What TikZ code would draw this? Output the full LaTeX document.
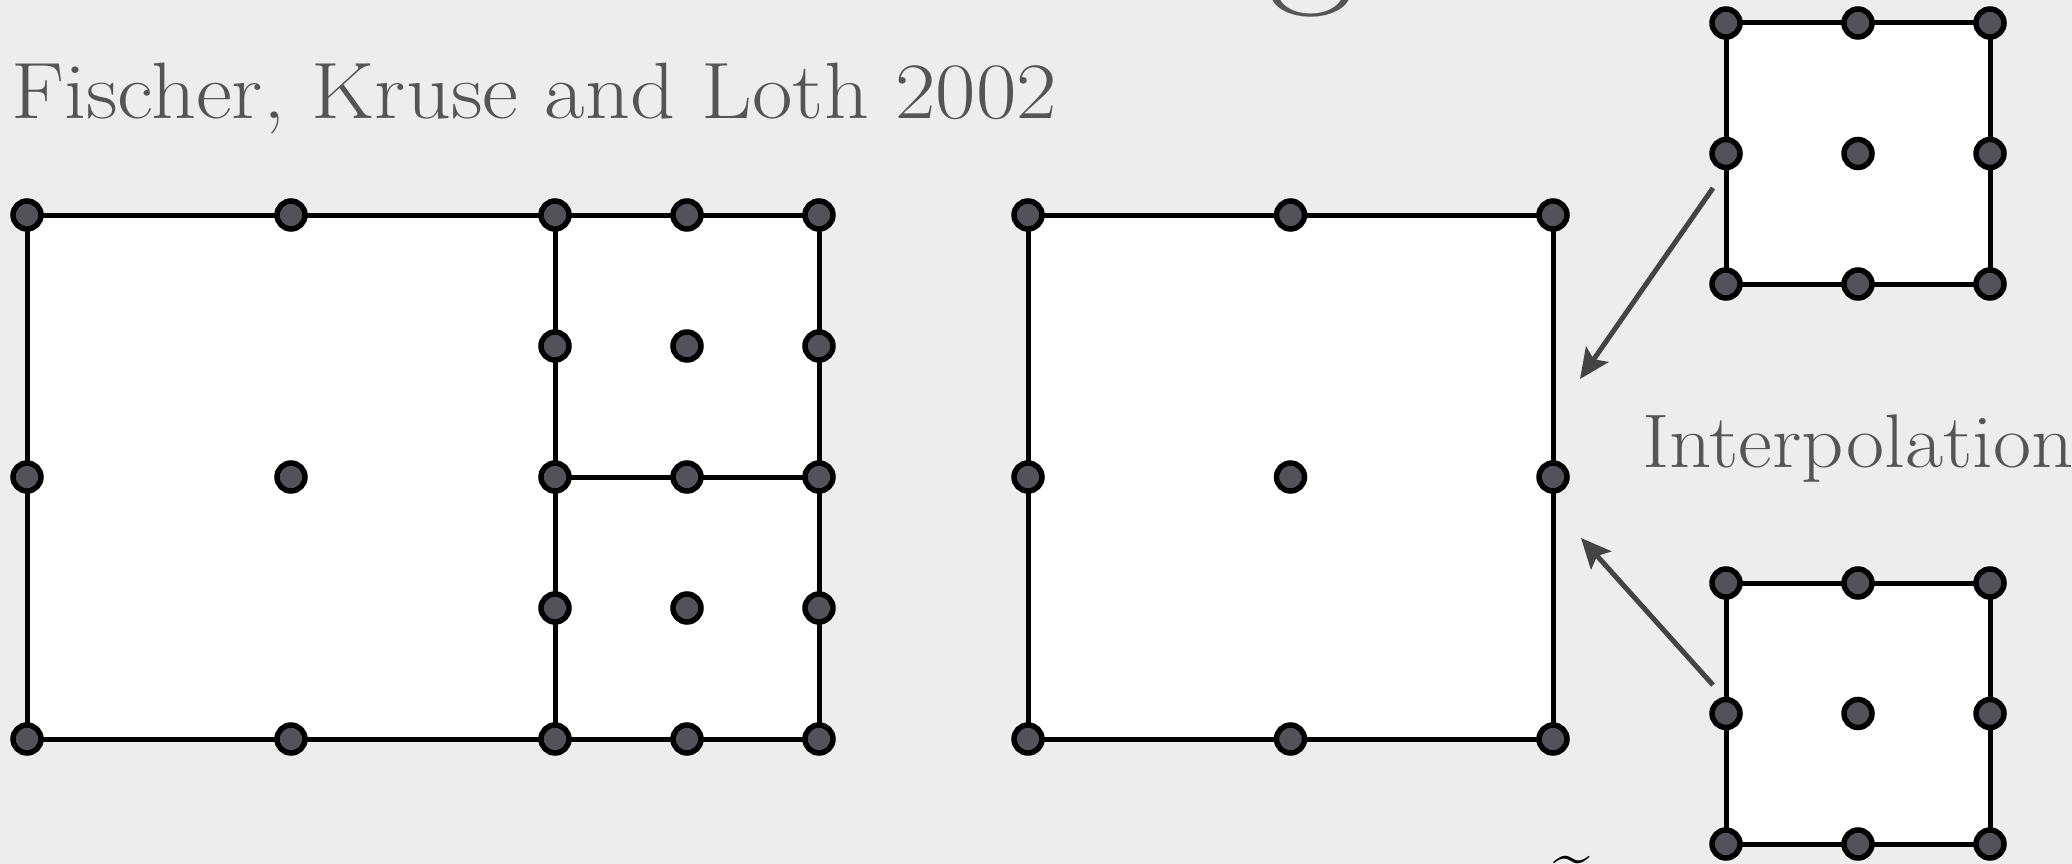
\documentclass[tikz,border=0pt]{standalone}
\usepackage{fontspec}
\usetikzlibrary{arrows.meta}
\definecolor{bgc}{RGB}{237,237,237}
\definecolor{dotc}{RGB}{82,82,88}
\definecolor{txtc}{RGB}{85,85,85}
\definecolor{arrc}{RGB}{68,68,68}
\pgfdeclarelayer{bgl}
\pgfsetlayers{bgl,main}
\tikzset{
  dotnode/.style={circle, draw=black, fill=dotc, line width=5.5pt, minimum size=28pt, inner sep=0pt},
  frame/.style={draw=black, line width=5pt},
  arrowline/.style={draw=arrc, line width=5pt, -{Stealth[length=30pt,width=27pt,inset=6pt]}},
  txtlabel/.style={text=txtc, inner sep=0pt, anchor=base west},
}
\begin{document}
\begin{tikzpicture}[x=1pt,y=-1pt]
\useasboundingbox (0,0) rectangle (2072,864);
% left refined grid
\foreach \n/\x/\y in {L00/27/215, L10/291/215, L20/555/215, L30/687/215, L40/819/215,
  L21/555/346, L31/687/346, L41/819/346,
  L02/27/477, L12/291/477, L22/555/477, L32/687/477, L42/819/477,
  L23/555/608, L33/687/608, L43/819/608,
  L04/27/739, L14/291/739, L24/555/739, L34/687/739, L44/819/739}
  \node[dotnode] (\n) at (\x,\y) {};
% 3x3 squares
\foreach \p/\ox/\oy/\sx/\sy in {M/1028/215/262.5/262, T/1726/23/132/130.5, B/1726/583/132/130.5}
  \foreach \i in {0,1,2}
    \foreach \j in {0,1,2}
      \node[dotnode] (\p\i\j) at ({\ox+\i*\sx},{\oy+\j*\sy}) {};
\begin{pgfonlayer}{bgl}
  \fill[bgc] (0,0) rectangle (2072,864);
  \fill[white] (L00.center) rectangle (L44.center);
  \draw[frame] (L00.center) -- (L40.center) -- (L44.center) -- (L04.center) -- cycle;
  \draw[frame] (L20.center) -- (L24.center);
  \draw[frame] (L22.center) -- (L42.center);
  \foreach \p in {M,T,B} {
    \fill[white] (\p00.center) rectangle (\p22.center);
    \draw[frame] (\p00.center) -- (\p20.center) -- (\p22.center) -- (\p02.center) -- cycle;
  }
\end{pgfonlayer}
% arrows
\coordinate (a1s) at (1713,188);
\coordinate (a1e) at (1580,379);
\coordinate (a2s) at (1713,685);
\coordinate (a2e) at (1581,538);
\draw[arrowline] (a1s) -- (a1e);
\draw[arrowline] (a2s) -- (a2e);
% texts
\node[txtlabel, font=\fontsize{80}{96}\selectfont] (cite) at (11,119) {\scalebox{1.1}[1]{Fischer, Kruse and Loth 2002}};
\node[txtlabel, font=\fontsize{76}{90}\selectfont] (interp) at (1642,467) {\scalebox{1.09}[1]{Interpolation}};
\node[text=txtc, inner sep=0pt, anchor=base, font=\fontsize{190}{190}\selectfont] (title) at (1311,-21) {g};
\node[inner sep=0pt, anchor=north, font=\fontsize{66}{66}\selectfont] (tl) at (1572,856) {\~{}};
\end{tikzpicture}
\end{document}
